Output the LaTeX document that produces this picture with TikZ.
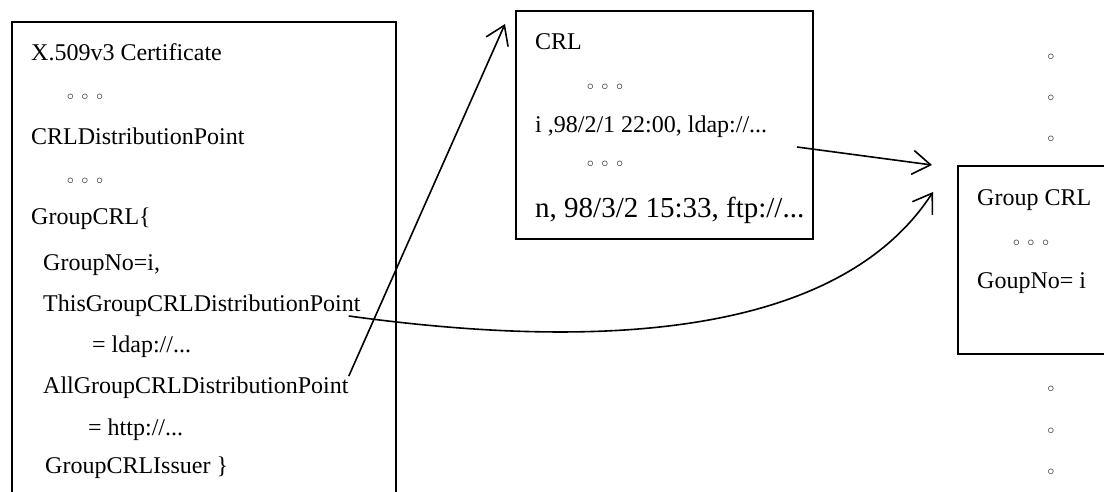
\documentclass[tikz,border=0pt]{standalone}
\usepackage{fontspec}
\setmainfont{Liberation Serif}
\newfontfamily\djv{DejaVu Sans}
\usetikzlibrary{arrows.meta,calc}
\newcommand{\tridots}{◦\hspace{4pt}◦\hspace{4pt}◦}
\begin{document}
\begin{tikzpicture}[x=1pt,y=-1pt,
  txt/.style={anchor=base west,inner sep=0pt,font=\fontsize{24}{24}\selectfont},
  bigtxt/.style={anchor=base west,inner sep=0pt,font=\fontsize{29}{29}\selectfont},
  dotsty/.style={inner sep=0pt,font=\djv\fontsize{18}{18}\selectfont},
  boxsty/.style={draw,line width=2pt,anchor=north west,inner sep=0pt},
  conn/.style={line width=1.6pt,-{Straight Barb[length=18pt,width=24pt,line width=1.6pt]}}]
\useasboundingbox (0,0) rectangle (1104,492);
\clip (0,0) rectangle (1104,492);
% boxes
\node[boxsty,minimum width=384pt,minimum height=490pt] (cert) at (11,21) {};
\node[boxsty,minimum width=297pt,minimum height=228pt] (crl) at (515,10) {};
\node[boxsty,minimum width=170pt,minimum height=188pt] (gcrl) at (957,165) {};
% certificate text
\node[txt] (t1) at (31,61) {X.509v3 Certificate};
\node[dotsty] (d1) at (85,99) {\tridots};
\node[txt] (t2) at (31,145) {CRLDistributionPoint};
\node[dotsty] (d2) at (85,183) {\tridots};
\node[txt] (t3) at (31,225) {GroupCRL\{};
\node[txt] (t4) at (43,270) {GroupNo=i,};
\node[txt] (this) at (43,311) {ThisGroupCRLDistributionPoint};
\node[txt] (t6) at (92,352) {= ldap://...};
\node[txt] (all) at (43,393) {AllGroupCRLDistributionPoint};
\node[txt] (t8) at (88,435) {= http://...};
\node[txt] (t9) at (45,473) {GroupCRLIssuer \}};
% CRL text
\node[txt] (c1) at (535,50) {CRL};
\node[dotsty] (c2) at (605,89) {\tridots};
\node[txt] (c3) at (535,133) {i ,98/2/1 22:00, ldap://...};
\node[dotsty] (c4) at (605,166) {\tridots};
\node[bigtxt] (c5) at (535,218) {n, 98/3/2 15:33, ftp://...};
% group CRL text
\node[txt] (g1) at (977,206) {Group CRL};
\node[dotsty] (g2) at (1031,245) {\tridots};
\node[txt] (g3) at (977,288) {GoupNo= i};
% vertical dots
\foreach \yy [count=\i] in {59,100,141,391,433,474}
  \node[dotsty] (v\i) at (1051,\yy) {◦};
% connectors
\coordinate (allend) at ($(all.north east)$);
\coordinate (crltip) at (505,24);
\coordinate (thisend) at ($(this.base east)+(-12,5)$);
\coordinate (ldapend) at (797,147);
\coordinate (tipa) at (932,165);
\coordinate (tipb) at (933,192);
\draw[conn] (allend) -- (crltip);
\draw[conn] (ldapend) -- (tipa);
\draw[conn] (thisend) .. controls (560,345) and (830,350) .. (tipb);
\end{tikzpicture}
\end{document}
